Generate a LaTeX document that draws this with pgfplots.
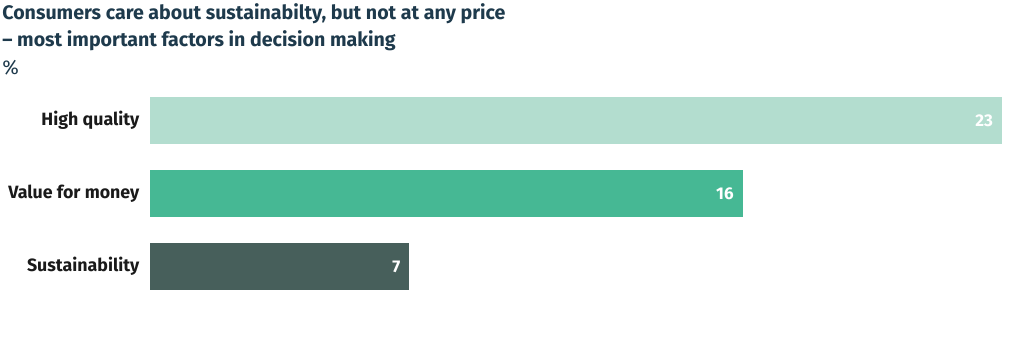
\documentclass[border=0pt]{standalone}
\usepackage{fontspec}
\setmainfont{Fira Sans}
\usepackage{pgfplots}
\pgfplotsset{compat=1.18}
\definecolor{titlec}{HTML}{1E3A4C}
\definecolor{c1}{HTML}{B3DDCF}
\definecolor{c2}{HTML}{46B894}
\definecolor{c3}{HTML}{475F5B}
\definecolor{lab}{HTML}{1A1A1A}
\begin{document}
\begin{tikzpicture}
\path[use as bounding box] (0,0) rectangle (512pt,-175pt);
\node[anchor=base west, inner sep=0, text=titlec, font=\fontsize{9.8pt}{12pt}\selectfont\bfseries] at (1pt,-9.5pt) {Consumers care about sustainabilty, but not at any price};
\node[anchor=base west, inner sep=0, text=titlec, font=\fontsize{9.8pt}{12pt}\selectfont\bfseries] at (1pt,-23pt) {– most important factors in decision making};
\node[anchor=base west, inner sep=0, text=titlec, font=\fontsize{10pt}{12pt}\selectfont] at (1pt,-37pt) {\%};
\begin{axis}[
  at={(75pt,-42pt)}, anchor=north west,
  scale only axis, width=426pt, height=109.5pt,
  xmin=0, xmax=23, ymin=-0.5, ymax=2.5, y dir=reverse,
  xbar, bar width=23.5pt, bar shift=0pt,
  axis line style={draw=none}, tick style={draw=none},
  xtick=\empty,
  ytick={0,1,2}, yticklabels={High quality,Value for money,Sustainability},
  yticklabel style={font=\fontsize{8.9pt}{10pt}\selectfont\bfseries, text=lab, xshift=2.5pt},
  /pgf/number format/assume math mode=true,
  nodes near coords,
  nodes near coords style={anchor=east, text=white, font=\fontsize{8.5pt}{10pt}\selectfont\bfseries, xshift=-1pt},
  point meta=x,
  clip=false,
]
\addplot[fill=c1, draw=none] coordinates {(23,0)};
\addplot[fill=c2, draw=none] coordinates {(16,1)};
\addplot[fill=c3, draw=none] coordinates {(7,2)};
\end{axis}
\end{tikzpicture}
\end{document}
